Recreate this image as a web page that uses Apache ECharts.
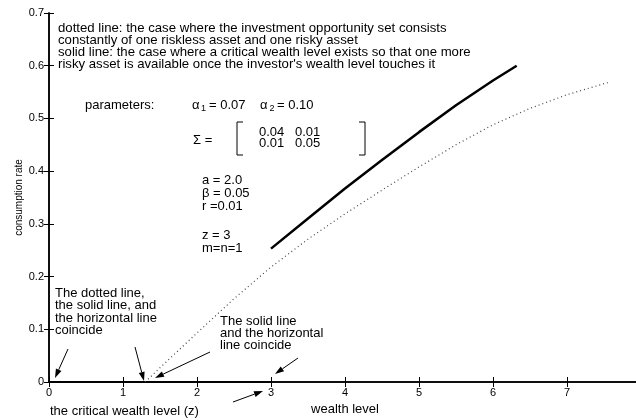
<!DOCTYPE html>
<html>
<head>
<meta charset="utf-8">
<script src="https://cdn.jsdelivr.net/npm/echarts@6.0.0/dist/echarts.min.js"></script>
<style>
  html, body { margin: 0; padding: 0; background: #fff; }
  #chart { width: 636px; height: 420px; }
</style>
</head>
<body>
<div id="chart"></div>
<script>
// wealth level (x) and consumption rate (y)
const dottedX = [1.3, 1.5, 2.0, 2.5, 3.0, 3.5, 4.0, 4.5, 5.0, 5.5, 6.0, 6.5, 7.0, 7.55]
const dottedY = [0.0, 0.027, 0.093, 0.158, 0.218, 0.271, 0.319, 0.364, 0.408, 0.45, 0.488, 0.519, 0.545, 0.568]
const solidX = [3.0, 3.5, 4.0, 4.5, 5.0, 5.5, 6.0, 6.32]
const solidY = [0.253, 0.31, 0.367, 0.421, 0.474, 0.525, 0.572, 0.6]
const flatX = [0, 3]
const flatY = [0, 0]
const xTicks = [0, 1, 2, 3, 4, 5, 6, 7]
const yTicks = [0, 0.1, 0.2, 0.3, 0.4, 0.5, 0.6, 0.7]

const FONT = '"Liberation Sans", Arial, sans-serif'

const pairs = (xs, ys) => xs.map((x, i) => [x, ys[i]])

function txt(x, y, s, size) {
  return {
    type: 'text', x: x, y: y, silent: true,
    style: { text: s, fill: '#000', font: (size || 13) + 'px ' + FONT, textVerticalAlign: 'middle' }
  }
}

function arrow(x1, y1, x2, y2) {
  const a = Math.atan2(y2 - y1, x2 - x1)
  const L = 9, W = 3
  const bx = x2 - L * Math.cos(a), by = y2 - L * Math.sin(a)
  const px = -Math.sin(a) * W, py = Math.cos(a) * W
  return [
    { type: 'line', silent: true, shape: { x1: x1, y1: y1, x2: bx, y2: by }, style: { stroke: '#000', lineWidth: 1 } },
    { type: 'polygon', silent: true, shape: { points: [[x2, y2], [bx + px, by + py], [bx - px, by - py]] }, style: { fill: '#000' } }
  ]
}

function bracket(x, y1, y2, dir) {
  return {
    type: 'polyline', silent: true,
    shape: { points: [[x + dir * 6, y1], [x, y1], [x, y2], [x + dir * 6, y2]] },
    style: { stroke: '#000', lineWidth: 1, fill: null }
  }
}

const chart = echarts.init(document.getElementById('chart'))

const axisCommon = {
  axisLine: { show: true, lineStyle: { color: '#000', width: 1.5 } },
  axisTick: { show: true, inside: true, length: 5, lineStyle: { color: '#000' } },
  splitLine: { show: false }
}

const option = {
  animation: false,
  grid: { left: 49, top: 13, width: 592, height: 369, outerBoundsMode: 'none', containLabel: false },
  xAxis: [
    Object.assign({
      type: 'value', min: 0, max: 8, interval: 1,
      name: 'wealth level', nameLocation: 'middle', nameGap: 16,
      nameTextStyle: { color: '#000', fontSize: 13, fontFamily: FONT },
      axisLabel: {
        color: '#000', fontSize: 11, fontFamily: FONT, margin: 5,
        formatter: v => (xTicks.indexOf(v) >= 0 ? String(v) : '')
      }
    }, axisCommon),
    Object.assign({
      type: 'value', min: 0, max: 8, interval: 1, position: 'top',
      axisLabel: { show: false }
    }, axisCommon)
  ],
  yAxis: [
    Object.assign({
      type: 'value', min: 0, max: 0.7, interval: 0.1,
      name: 'consumption rate', nameLocation: 'middle', nameGap: 25, nameRotate: 90,
      nameMoveOverlap: false,
      nameTextStyle: { color: '#000', fontSize: 10, fontFamily: FONT },
      axisLabel: {
        color: '#000', fontSize: 11, fontFamily: FONT, margin: 5,
        formatter: v => {
          const t = yTicks.find(k => Math.abs(k - v) < 1e-9)
          return t === undefined ? '' : (t === 0 ? '0' : t.toFixed(1))
        }
      }
    }, axisCommon),
    Object.assign({
      type: 'value', min: 0, max: 0.7, interval: 0.1, position: 'right',
      axisLabel: { show: false }
    }, axisCommon)
  ],
  series: [
    {
      name: 'horizontal line', type: 'line', showSymbol: false, silent: true,
      data: pairs(flatX, flatY),
      lineStyle: { color: '#000', width: 2 }
    },
    {
      name: 'dotted line', type: 'line', showSymbol: false, silent: true,
      data: pairs(dottedX, dottedY),
      lineStyle: { color: '#444', width: 1.2, type: [1, 3] }
    },
    {
      name: 'solid line', type: 'line', showSymbol: false, silent: true,
      data: pairs(solidX, solidY),
      lineStyle: { color: '#000', width: 2.5 }
    }
  ],
  graphic: [
    txt(58, 28.5, 'dotted line: the case where the investment opportunity set consists', 13.2),
    txt(58, 40.5, 'constantly of one riskless asset and one risky asset', 13.2),
    txt(58, 52.5, 'solid line: the case where a critical wealth level exists so that one more', 13.2),
    txt(58, 64.5, "risky asset is available once the investor's wealth level touches it", 13.2),

    txt(85, 105, 'parameters:'),
    txt(192, 105, 'α'),
    txt(201, 109, '1', 9),
    txt(209, 105, '= 0.07'),
    txt(260, 105, 'α'),
    txt(269.5, 109, '2', 9),
    txt(277, 105, '= 0.10'),

    txt(193, 140, 'Σ ='),
    bracket(237, 122, 155, 1),
    bracket(365, 122, 155, -1),
    txt(259, 132, '0.04'),
    txt(295, 132, '0.01'),
    txt(259, 143.5, '0.01'),
    txt(295, 143.5, '0.05'),

    txt(202, 180, 'a = 2.0'),
    txt(202, 193, 'β = 0.05'),
    txt(202, 206, 'r =0.01'),
    txt(202, 235, 'z = 3'),
    txt(202, 248, 'm=n=1'),

    txt(55, 293, 'The dotted line,'),
    txt(55, 305.5, 'the solid line, and'),
    txt(55, 318, 'the horizontal line'),
    txt(55, 330.5, 'coincide'),

    txt(220, 321, 'The solid line'),
    txt(220, 333, 'and the horizontal'),
    txt(220, 345, 'line coincide'),

    txt(50, 411, 'the critical wealth level (z)')
  ]
    .concat(arrow(68, 349, 55, 378))
    .concat(arrow(135, 347, 144, 381))
    .concat(arrow(210, 352, 155, 378))
    .concat(arrow(298, 358, 275, 374))
    .concat(arrow(233, 402, 263, 391))
}

chart.setOption(option)
</script>
</body>
</html>
